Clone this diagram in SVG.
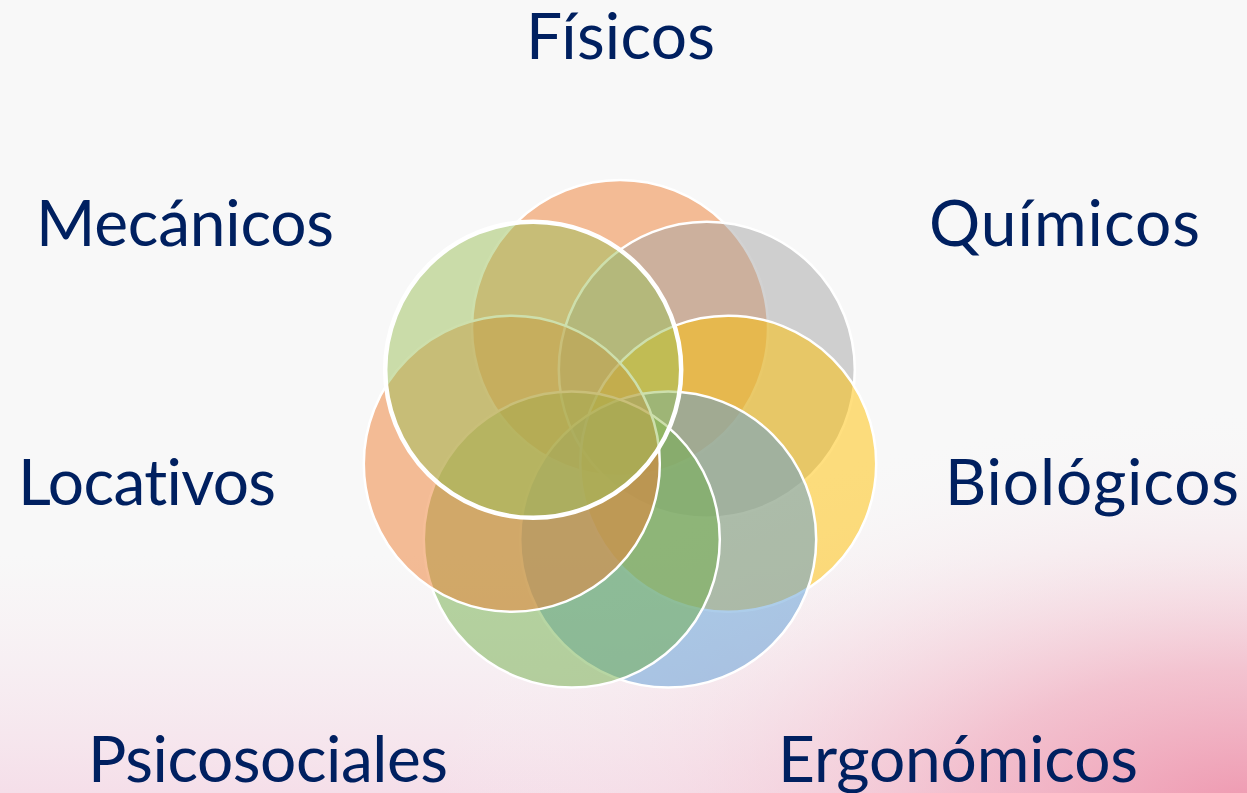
<svg xmlns="http://www.w3.org/2000/svg" width="1247" height="793" viewBox="0 0 1247 793">
  <defs>
    <radialGradient id="pinkBR" cx="0" cy="0" r="1" gradientUnits="userSpaceOnUse" gradientTransform="translate(1247 810) scale(820 400)">
      <stop offset="0" stop-color="#EE94AC" stop-opacity="0.95"/>
      <stop offset="0.35" stop-color="#F1B0C1" stop-opacity="0.7"/>
      <stop offset="0.7" stop-color="#F5D8E1" stop-opacity="0.3"/>
      <stop offset="1" stop-color="#F8F8F8" stop-opacity="0"/>
    </radialGradient>
    <linearGradient id="pinkBottom" x1="0" y1="0" x2="0" y2="1">
      <stop offset="0.7" stop-color="#F6E4EC" stop-opacity="0"/>
      <stop offset="1" stop-color="#F4D6E4" stop-opacity="0.75"/>
    </linearGradient>
    <style>
      .lbl { font-family: Lato, "Open Sans", "Liberation Sans", sans-serif; font-size: 64px; fill: #002060; font-variant-ligatures: none; }
      .c { stroke: #FFFFFF; stroke-width: 2.5; fill-opacity: 0.5; }
    </style>
  </defs>
  <rect width="1247" height="793" fill="#F8F8F8"/>
  <rect width="1247" height="793" fill="url(#pinkBottom)"/>
  <rect width="1247" height="793" fill="url(#pinkBR)"/>

  <g id="circles">
    <g id="node-fisicos-circle"><circle class="c" cx="620" cy="328" r="148" fill="#ED7D31"/></g>
    <g id="node-quimicos-circle"><circle class="c" cx="706.8" cy="369.8" r="148" fill="#A5A5A5"/></g>
    <g id="node-biologicos-circle"><circle class="c" cx="728.2" cy="463.7" r="148" fill="#FFC000"/></g>
    <g id="node-ergonomicos-circle"><circle class="c" cx="668.2" cy="539.5" r="148" fill="#5B9BD5"/></g>
    <g id="node-psicosociales-circle"><circle class="c" cx="571.8" cy="539.5" r="148" fill="#70AD47"/></g>
    <g id="node-locativos-circle"><circle class="c" cx="511.8" cy="463.7" r="148" fill="#ED7D31"/></g>
    <g id="node-mecanicos-circle"><circle class="c" cx="533.2" cy="369.8" r="148" fill="#9BBF5A" style="stroke-width:4.5"/></g>
  </g>

  <g id="connectors"></g>

  <g id="labels">
    <g id="node-fisicos"><text class="lbl" x="526" y="59" textLength="189">Físicos</text></g>
    <g id="node-mecanicos"><text class="lbl" x="36" y="246" textLength="298">Mecánicos</text></g>
    <g id="node-quimicos"><text class="lbl" x="929" y="246" textLength="271">Químicos</text></g>
    <g id="node-locativos"><text class="lbl" x="18" y="505" textLength="258">Locativos</text></g>
    <g id="node-biologicos"><text class="lbl" x="945" y="505" textLength="294">Biológicos</text></g>
    <g id="node-psicosociales"><text class="lbl" x="88" y="782" textLength="360">Psicosociales</text></g>
    <g id="node-ergonomicos"><text class="lbl" x="778" y="782" textLength="360">Ergonómicos</text></g>
  </g>
</svg>
